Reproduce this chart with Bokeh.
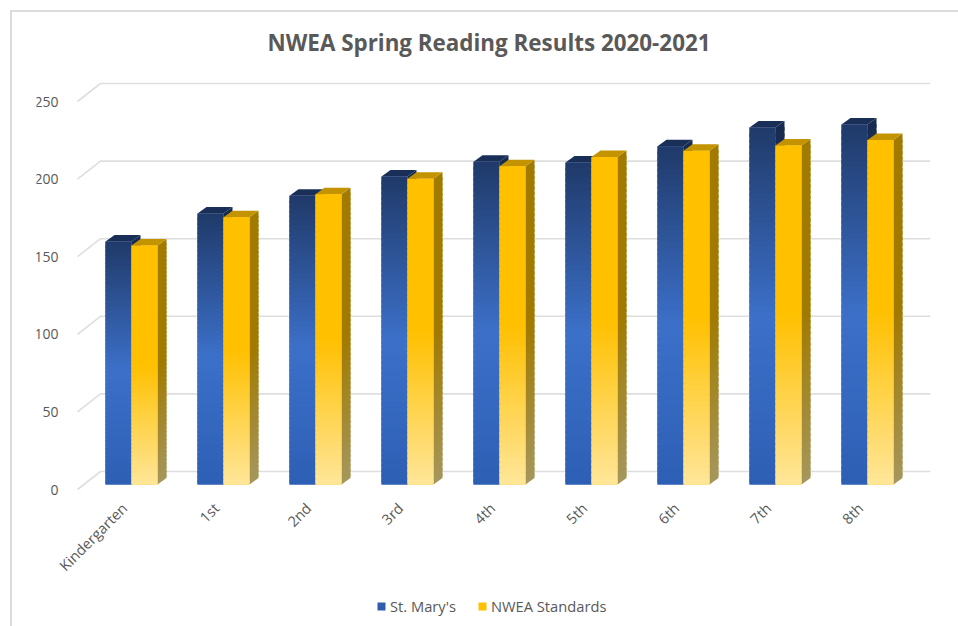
import numpy as np
from bokeh.embed import file_html
from bokeh.resources import INLINE
from bokeh.plotting import figure
from bokeh.models import (ColumnDataSource, FixedTicker, InlineStyleSheet, Legend, LegendItem, Range1d)

categories = ["Kindergarten", "1st", "2nd", "3rd", "4th", "5th", "6th", "7th", "8th"]
st_marys = [156.6, 174.6, 186, 198.5, 208, 207.5, 218, 230, 232]
nwea = [154, 172.2, 187, 197, 205, 211, 215, 218.5, 222]
y_ticks = [0, 50, 100, 150, 200, 250]
series_names = ["St. Mary's", "NWEA Standards"]

# layout, in pixels of the page
W, H = 958, 626
FL, FR, FT, FB = 36, 930, 58, 624
GRID_L = 77
ZERO = 489
CAT0 = 131
PX_X, PX_Y = 92.0, 1.552
ux = 1 / PX_X
uy = 1 / PX_Y
x_start = (FL - CAT0) * ux
x_grid = (GRID_L - CAT0) * ux
x_end = (FR - CAT0) * ux
y_start = (ZERO - FB) * uy
y_end = (ZERO - FT) * uy

p = figure(width=W, height=H, output_backend="svg", toolbar_location=None,
           x_range=Range1d(x_start, x_end), y_range=Range1d(y_start, y_end),
           frame_width=FR - FL, frame_height=FB - FT,
           min_border_left=FL, min_border_right=W - FR,
           min_border_top=FT, min_border_bottom=H - FB)
p.outline_line_color = None
p.xgrid.visible = False
p.ygrid.visible = False

# chart frame: top and left rule
p.stylesheets = [InlineStyleSheet(css=(
    ":host::before{content:'';position:absolute;left:10px;top:10px;right:0;bottom:0;"
    "border-left:2px solid #dcdcdc;border-top:2px solid #dcdcdc;z-index:10;pointer-events:none;}"))]

p.title.text = "NWEA Spring Reading Results 2020-2021"
p.title.text_font = "Open Sans"
p.title.text_font_size = "22.4px"
p.title.text_font_style = "bold"
p.title.text_color = "#595959"
p.title.align = "left"
p.title.offset = 267 - FL
p.title.standoff = 2

label_shift = 7 * ux
x_ticks = [round(i - label_shift, 4) for i in range(len(categories))]
for ax, ticks in ((p.xaxis[0], x_ticks), (p.yaxis[0], y_ticks)):
    ax.ticker = FixedTicker(ticks=ticks)
    ax.axis_line_color = None
    ax.major_tick_line_color = None
    ax.minor_tick_line_color = None
    ax.major_label_text_color = "#595959"
    ax.major_label_text_font = "Open Sans"
p.yaxis[0].major_label_text_font_size = "14px"
p.xaxis[0].major_label_text_font_size = "14.5px"
p.xaxis[0].major_label_overrides = {t: c for t, c in zip(x_ticks, categories)}
p.xaxis[0].major_label_orientation = np.pi / 4
p.xaxis[0].major_label_standoff = 10
p.xaxis[0].fixed_location = 0
p.yaxis[0].major_label_standoff = 13
p.yaxis[0].fixed_location = x_grid

# gridlines: floor/wall corner then back wall
WX, WY = 23 * ux, 18 * uy
gx = [[x_grid, x_grid + WX, x_end] for _ in y_ticks]
gy = [[v, v + WY, v + WY] for v in y_ticks]
p.multi_line(gx, gy, line_color="#dedede", line_width=1.6, level="underlay")

BASE = 5 * uy
BAR_W = 26 * ux
DX, DY = 9 * ux, 6.5 * uy
N = 60


def hex2rgb(h):
    return np.array([int(h[i:i + 2], 16) for i in (1, 3, 5)], float)


def ramp(stops, f):
    fs = [s[0] for s in stops]
    cs = np.array([hex2rgb(s[1]) for s in stops])
    rgb = [np.interp(f, fs, cs[:, k]) for k in range(3)]
    return "#%02x%02x%02x" % tuple(int(round(c)) for c in rgb)


styles = [
    dict(base="#2f5cad", top="#1a2f58",
         front=[(0, "#203a69"), (0.53, "#3c70c9"), (1, "#2d5fb4")],
         side=[(0, "#172a4f"), (0.53, "#2b5192"), (1, "#214585")]),
    dict(base="#ffc000", top="#c39300",
         front=[(0, "#ffc000"), (0.5, "#ffc000"), (1, "#ffe699")],
         side=[(0, "#a27a00"), (0.5, "#a27a00"), (1, "#a5965c")]),
]

legend_items = []
for k, (values, st) in enumerate(zip((st_marys, nwea), styles)):
    xc = np.arange(len(categories))
    x0 = xc + (k - 1) * BAR_W
    x1 = x0 + BAR_W
    vals = np.array(values, float) + BASE

    qs = dict(l=[], r=[], t=[], b=[], c=[])
    sx, sy, sc = [], [], []
    for i in range(len(vals)):
        h = vals[i] - BASE
        for j in range(N):
            f0, f1 = j / N, (j + 1) / N
            top = vals[i] - f0 * h
            bot = vals[i] - min(1, f1 + 0.6 / N) * h
            qs["l"].append(x0[i]); qs["r"].append(x1[i])
            qs["t"].append(top); qs["b"].append(bot)
            qs["c"].append(ramp(st["front"], (f0 + f1) / 2))
            sx.append([x1[i], x1[i] + DX, x1[i] + DX, x1[i]])
            sy.append([top, top + DY, bot + DY, bot])
            sc.append(ramp(st["side"], (f0 + f1) / 2))
    tx = [[x0[i], x0[i] + DX, x1[i] + DX, x1[i]] for i in range(len(vals))]
    ty = [[vals[i], vals[i] + DY, vals[i] + DY, vals[i]] for i in range(len(vals))]

    base = p.quad(left=x0, right=x1, top=vals, bottom=BASE, fill_color=st["base"], line_color=None)
    p.patches(sx, sy, fill_color=sc, line_color=None)
    p.patches(tx, ty, fill_color=st["top"], line_color=None)
    p.quad(source=ColumnDataSource(qs), left="l", right="r", top="t", bottom="b",
           fill_color="c", line_color=None)
    legend_items.append(LegendItem(label=series_names[k], renderers=[base]))

legend = Legend(items=legend_items, orientation="horizontal", location=(340, 8),
                background_fill_alpha=0, border_line_color=None, margin=0, padding=0,
                glyph_width=10, glyph_height=10, spacing=21, label_standoff=4,
                label_text_font="Open Sans", label_text_font_size="14.7px",
                label_text_color="#595959")
p.add_layout(legend, "center")

open("out.html", "w").write(file_html(p, INLINE))
